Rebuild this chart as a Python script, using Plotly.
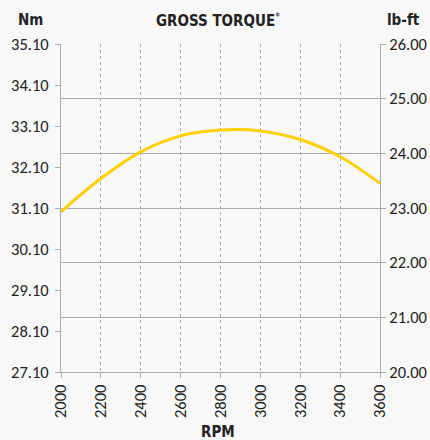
import plotly.graph_objects as go

rpm = [2000, 2200, 2400, 2600, 2800, 3000, 3200, 3400, 3600]
torque_nm = [31.01, 31.82, 32.47, 32.86, 33.00, 32.98, 32.77, 32.35, 31.70]
nm_ticks = [27.10, 28.10, 29.10, 30.10, 31.10, 32.10, 33.10, 34.10, 35.10]
lbft_ticks = [20.00, 21.00, 22.00, 23.00, 24.00, 25.00, 26.00]
torque_lbft = [v / 1.3558 for v in torque_nm]

FONT = "Carlito, Lato, sans-serif"
TFONT = "DejaVu Sans Condensed, Roboto, sans-serif"
GRID = "#ababab"
TS = 16.5

W, H = 430, 440
l, r, t, b = 61, 50, 44, 68
pw, ph = W - l - r, H - t - b

def px_ann(text, px_x, px_y, size=15):
    return dict(text=text, xref="paper", yref="paper", x=(px_x - l) / pw, y=(H - b - px_y) / ph,
                xanchor="center", yanchor="middle", showarrow=False,
                font=dict(family=TFONT, size=size, color="#222"))

fig = go.Figure()
fig.add_trace(go.Scatter(x=rpm, y=torque_nm, mode="lines",
                         line=dict(color="#FFD000", width=3, shape="spline", smoothing=1.0),
                         showlegend=False, hoverinfo="x+y"))
fig.add_trace(go.Scatter(x=rpm, y=torque_lbft, yaxis="y2", mode="lines", line=dict(width=0), opacity=0,
                         showlegend=False, hoverinfo="skip"))

fig.update_layout(
    width=W, height=H,
    margin=dict(l=l, r=r, t=t, b=b, autoexpand=False),
    paper_bgcolor="#f8f8f8", plot_bgcolor="#f8f8f8",
    font=dict(family=FONT, size=TS, color="#222"),
    xaxis=dict(range=[2000, 3600], tickmode="array", tickvals=rpm, ticktext=[str(v) for v in rpm],
               tickangle=-90, showgrid=True, gridcolor=GRID, griddash="dot", gridwidth=1,
               showline=True, linecolor=GRID, linewidth=1, ticks="outside", ticklen=5, tickcolor=GRID,
               zeroline=False, automargin=False, tickfont=dict(family=FONT, size=TS)),
    yaxis=dict(range=[27.1, 35.1], tickmode="array", tickvals=nm_ticks, ticktext=[f"{v:.2f}" for v in nm_ticks],
               showgrid=False, showline=True, linecolor=GRID, linewidth=1, ticks="outside", ticklen=5,
               tickcolor=GRID, zeroline=False, automargin=False, ticklabelstandoff=3,
               tickfont=dict(family=FONT, size=TS)),
    yaxis2=dict(range=[20, 26], overlaying="y", side="right", tickmode="array", tickvals=lbft_ticks,
                ticktext=[f"{v:.2f}" for v in lbft_ticks], showgrid=True, gridcolor=GRID, gridwidth=1,
                showline=True, linecolor=GRID, linewidth=1, ticks="outside", ticklen=5, tickcolor=GRID,
                zeroline=False, automargin=False, tickfont=dict(family=FONT, size=TS)),
    annotations=[
        px_ann("<b>GROSS TORQUE</b><sup>*</sup>", 218, 20),
        px_ann("<b>Nm</b>", 30, 20),
        px_ann("<b>lb-ft</b>", 403, 20),
        px_ann("<b>RPM</b>", 218, 431.5),
    ],
)

fig.write_html("out.html", config={"displayModeBar": False},
               post_script="document.body.style.margin='0';document.body.style.overflow='hidden';")
